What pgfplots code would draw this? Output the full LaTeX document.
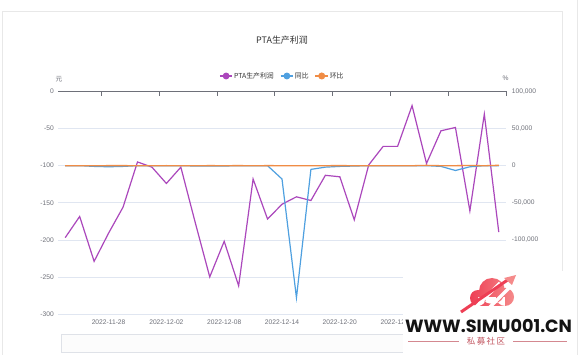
\documentclass[border=0pt]{standalone}
\usepackage{pgfplots}
\pgfplotsset{compat=1.18}
\usepackage{graphicx}
\usepackage{fontspec}
\setmainfont{Liberation Sans}
\newfontfamily\cjk{Noto Sans CJK SC}
\newfontfamily\popb{Poppins}[UprightFont=* Bold]
\definecolor{gridc}{HTML}{E0E6F1}
\definecolor{axisc}{HTML}{6E7079}
\definecolor{labc}{HTML}{6E7079}
\definecolor{purp}{HTML}{AB47BC}
\definecolor{bluec}{HTML}{4FA0E0}
\definecolor{orac}{HTML}{F08C45}
\definecolor{wmred}{HTML}{C25560}
\definecolor{cloudA}{HTML}{EE3F55}
\definecolor{cloudB}{HTML}{F58A8A}
\newcommand{\tfont}{\fontsize{6.7}{8}\selectfont}
\begin{document}
\begin{tikzpicture}
\useasboundingbox (0,0) rectangle (579bp,355bp);
\fill[white] (0,0) rectangle (579bp,355bp);
\draw[color=black!9, line width=0.6bp] (2.5bp,-5bp) rectangle (562bp,344bp);
\draw[color=black!9, line width=0.6bp] (577bp,0bp) -- (577bp,355bp);
% title
\node[font=\cjk\fontsize{9}{10}\selectfont, text=black!80] at (282bp,315bp) {PTA生产利润};
% axis names
\node[font=\cjk\tfont, text=labc] at (59bp,276bp) {元};
\node[font=\tfont, text=labc] at (505.7bp,276.3bp) {\%};

\begin{axis}[
  at={(58bp,41bp)}, anchor=south west,
  width=448bp, height=222.5bp, scale only axis,
  xmin=-0.5, xmax=30.5, ymin=-300, ymax=0,
  axis line style={draw=none},
  xtick={3,7,11,15,19,23},
  xticklabels={2022-11-28,2022-12-02,2022-12-08,2022-12-14,2022-12-20,2022-12-26},
  ytick={-300,-250,-200,-150,-100,-50,0},
  ymajorgrids, grid style={color=gridc, line width=0.6bp},
  major tick length=0pt,
  tick label style={font=\tfont, text=labc},
  xticklabel style={inner sep=0pt, yshift=-5.5bp, anchor=north},
  yticklabel style={inner sep=0pt, xshift=-4bp, anchor=east},
  /pgf/number format/assume math mode=true,
  clip=false,
]
\addplot[color=purp, line width=1.2bp, mark=none] coordinates {
(0,-197) (1,-168.5) (2,-229) (3,-191) (4,-156) (5,-95) (6,-102) (7,-124)
(8,-102) (9,-177) (10,-250) (11,-202) (12,-262) (13,-118) (14,-172) (15,-152)
(16,-142) (17,-147) (18,-113) (19,-115) (20,-173) (21,-99) (22,-74) (23,-74)
(24,-19) (25,-97) (26,-53) (27,-48.5) (28,-161) (29,-30.5) (30,-189.5)
};
\draw[color=axisc, line width=0.7bp] (axis cs:-0.5,0) -- (axis cs:30.5,0);
\pgfplotsinvokeforeach{2.5,6.5,10.5,14.5,18.5,22.5,26.5,30.5}{
  \draw[color=axisc, line width=0.7bp] (axis cs:#1,0) -- (axis cs:#1,-5.4);
}
\end{axis}

\begin{axis}[
  at={(58bp,41bp)}, anchor=south west,
  width=448bp, height=222.5bp, scale only axis,
  xmin=-0.5, xmax=30.5, ymin=-200000, ymax=100000,
  hide x axis,
  axis y line*=right,
  y axis line style={draw=none},
  ytick={-100000,-50000,0,50000,100000},
  scaled y ticks=false,
  major tick length=0pt,
  tick label style={font=\tfont, text=labc},
  yticklabel style={inner sep=0pt, xshift=5.7bp, anchor=west,
     /pgf/number format/.cd, fixed, 1000 sep={,}},
  /pgf/number format/assume math mode=true,
  clip=false,
  legend style={at={(0.5,1.0697)}, anchor=center, draw=none, fill=none,
     font=\cjk\fontsize{6.9}{8}\selectfont, text=black!80,
     legend columns=-1, inner sep=0pt,
     nodes={inner sep=1.2bp},
     /tikz/every even column/.append style={column sep=5bp}},
  legend image code/.code={
     \draw[#1, line width=1.2bp] (0bp,0bp) -- (12.5bp,0bp);
     \fill[#1] (6.25bp,0bp) circle (2.8bp);},
]
\addlegendimage{color=purp, line width=1.2bp}
\addlegendentry{PTA生产利润}
\addplot[color=bluec, line width=1.2bp, mark=none] coordinates {
(0,0) (1,0) (2,-1000) (3,-1500) (4,-1000) (5,0) (6,0) (7,0) (8,0) (9,-500)
(10,-500) (11,-500) (12,0) (13,0) (14,0) (15,-18000) (16,-178000) (17,-5000)
(18,-2000) (19,-1000) (20,-500) (21,0) (22,0) (23,0) (24,0) (25,0)
(26,-1000) (27,-6500) (28,-1500) (29,0) (30,0)
};
\addlegendentry{同比}
\addplot[color=orac, line width=1.3bp, mark=none] coordinates {
(0,10) (1,-20) (2,15) (3,20) (4,40) (5,-30) (6,-5) (7,20) (8,-20) (9,-60)
(10,40) (11,-20) (12,50) (13,-50) (14,40) (15,-10) (16,-5) (17,5) (18,2) (19,50)
(20,-15) (21,-40) (22,-25) (23,0) (24,-70) (25,400) (26,-45) (27,-10) (28,230) (29,-80) (30,500)
};
\addlegendentry{环比}
\end{axis}

% data zoom slider
\draw[color=gridc!90!black!60, line width=0.6bp, fill=black!1] (61bp,3bp) rectangle (503bp,21bp);

% watermark
\fill[white] (403bp,-1bp) rectangle (574bp,84bp);
\begin{scope}
  \shade[left color=cloudA, right color=cloudB]
    (478bp,57bp) circle (8bp)
    (492bp,64bp) circle (13bp)
    (505bp,58bp) circle (9bp)
    (478bp,49bp) rectangle (505bp,58bp);
  \draw[white, line width=3.5bp] (468bp,40bp) -- (500bp,72bp);
  \draw[white, line width=3.5bp] (482bp,40bp) -- (512bp,70bp);
  \draw[cloudA, line width=3bp] (461bp,43bp) -- (509bp,76bp);
  \fill[cloudB] (516bp,80bp) -- (504bp,77bp) -- (512bp,70bp) -- cycle;
\end{scope}
\node[inner sep=0pt, text=black!92] at (488.5bp,29bp)
  {\resizebox{167bp}{!}{\popb WWW.SIMU001.CN}};
\node[inner sep=0pt, text=wmred, font=\cjk\fontsize{8.5}{9}\selectfont] at (486bp,13.5bp) {私\,募\,社\,区};
\draw[wmred!70, line width=0.6bp] (408bp,13.5bp) -- (459bp,13.5bp);
\draw[wmred!70, line width=0.6bp] (513bp,13.5bp) -- (567bp,13.5bp);
\end{tikzpicture}
\end{document}
